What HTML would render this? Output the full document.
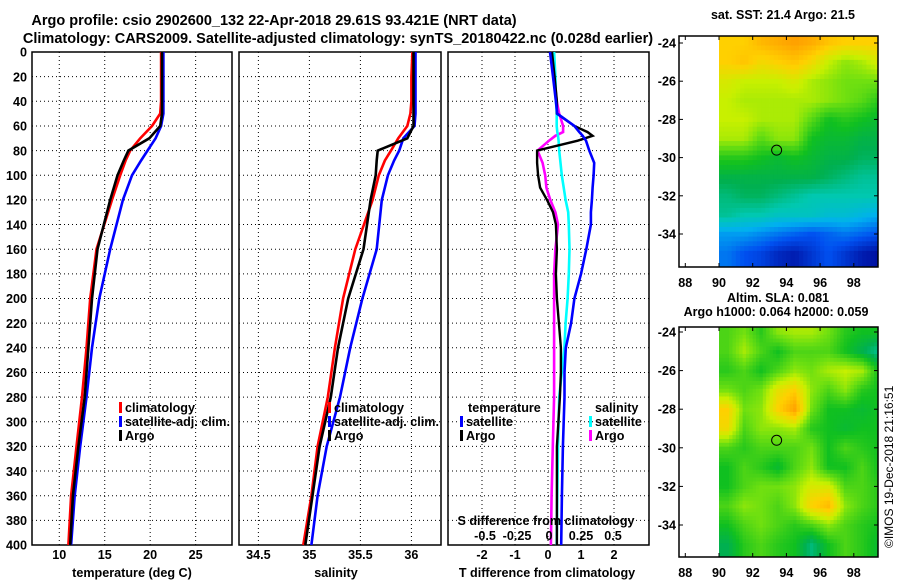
<!DOCTYPE html>
<html><head><meta charset="utf-8">
<style>
html,body{margin:0;padding:0;background:#fff;}
svg{display:block;font-family:"Liberation Sans",sans-serif;font-weight:bold;}
</style></head>
<body>
<svg id="fig" width="900" height="580" viewBox="0 0 900 580" xmlns="http://www.w3.org/2000/svg">
<text x="274" y="25" font-size="14.5" text-anchor="middle">Argo profile: csio 2902600_132 22-Apr-2018 29.61S 93.421E (NRT data)</text>
<text x="338" y="43" font-size="14.5" text-anchor="middle">Climatology: CARS2009. Satellite-adjusted climatology: synTS_20180422.nc (0.028d earlier)</text>
<text x="783" y="19" font-size="12.5" text-anchor="middle">sat. SST: 21.4 Argo: 21.5</text>
<text x="778" y="302" font-size="12.5" text-anchor="middle">Altim. SLA: 0.081</text>
<text x="776" y="316" font-size="12.5" text-anchor="middle">Argo h1000: 0.064 h2000: 0.059</text>
<text transform="translate(893,548) rotate(-90)" font-size="12" font-weight="normal">©IMOS 19-Dec-2018 21:16:51</text>
<g id="g"></g>
</svg>
<script>
// ---- data ----
const depths = [0,20,40,50,60,70,80,88,100,120,160,200,240,280,320,360,400];
const tempClim = [21.2,21.2,21.2,21.1,20.2,18.9,17.8,17.3,16.7,15.8,14.1,13.4,13.0,12.5,11.9,11.3,11.0];
const tempSat  = [21.45,21.45,21.45,21.45,21.2,20.6,19.7,19.0,18.0,17.0,15.6,14.4,13.6,13.0,12.3,11.7,11.3];
const tempArgo = [21.3,21.3,21.3,21.3,21.1,19.9,17.6,17.1,16.4,15.6,14.2,13.6,13.2,12.8,12.1,11.5,11.2];
const salClim = [36.01,36.0,36.0,35.99,35.96,35.87,35.8,35.74,35.68,35.62,35.45,35.33,35.25,35.18,35.08,35.02,34.94];
const salSat  = [36.04,36.04,36.04,36.04,36.03,35.92,35.88,35.83,35.77,35.71,35.66,35.52,35.40,35.30,35.17,35.08,35.02];
const salArgo = [36.02,36.02,36.02,36.02,36.02,35.96,35.67,35.66,35.65,35.6,35.53,35.38,35.28,35.21,35.10,35.03,34.96];
const diffDepths = [0,20,40,50,60,65,68,72,80,90,100,110,120,130,140,160,180,200,220,240,260,280,320,360,400];
const dTsat  = [0.06,0.15,0.24,0.28,0.8,0.95,1.05,1.15,1.25,1.4,1.38,1.35,1.33,1.3,1.3,1.16,1.0,0.8,0.7,0.54,0.5,0.5,0.45,0.42,0.4];
const dTargo = [0.12,0.2,0.27,0.27,0.8,1.2,1.35,0.9,-0.33,-0.33,-0.3,-0.24,-0.03,0.15,0.24,0.27,0.24,0.27,0.33,0.39,0.39,0.36,0.27,0.27,0.27];
const dSargo = [0.015,0.04,0.06,0.08,0.11,0.11,0.05,0.0,-0.09,-0.05,-0.03,-0.02,0.01,0.05,0.07,0.05,0.04,0.04,0.04,0.04,0.04,0.04,0.03,0.02,0.015];
const dSsat  = [0.04,0.05,0.055,0.06,0.06,0.065,0.07,0.075,0.08,0.09,0.1,0.115,0.13,0.15,0.155,0.16,0.155,0.145,0.13,0.12,0.1,0.08,0.07,0.065,0.06];
const depthTicks = [0,20,40,60,80,100,120,140,160,180,200,220,240,260,280,300,320,340,360,380,400];
const tempTicks = [10,15,20,25];
const salTicks = [34.5,35,35.5,36];
const dTTicks = [-2,-1,0,1,2];
const dSTicks = [-0.5,-0.25,0,0.25,0.5];
const dSTickLabels = ["-0.5","-0.25","0","0.25","0.5"];
const sstGrid = [
[0.72,0.72,0.76,0.78,0.8,0.78,0.74,0.72,0.72,0.72],
[0.72,0.74,0.7,0.72,0.74,0.7,0.64,0.6,0.62,0.66],
[0.66,0.64,0.64,0.64,0.66,0.62,0.6,0.58,0.58,0.58],
[0.64,0.62,0.62,0.62,0.62,0.62,0.6,0.58,0.56,0.52],
[0.64,0.64,0.62,0.62,0.62,0.56,0.5,0.52,0.5,0.48],
[0.62,0.62,0.56,0.6,0.6,0.5,0.48,0.48,0.46,0.46],
[0.52,0.52,0.5,0.48,0.5,0.48,0.46,0.46,0.44,0.44],
[0.46,0.46,0.46,0.46,0.46,0.46,0.44,0.42,0.4,0.4],
[0.42,0.44,0.44,0.42,0.4,0.38,0.38,0.38,0.38,0.38],
[0.4,0.38,0.38,0.36,0.36,0.36,0.34,0.34,0.32,0.3],
[0.28,0.28,0.26,0.24,0.22,0.2,0.22,0.24,0.22,0.2],
[0.24,0.2,0.18,0.14,0.12,0.16,0.2,0.16,0.12,0.1]];
const slaGrid = [
[0.55,0.58,0.52,0.6,0.62,0.62,0.58,0.52,0.5,0.5],
[0.55,0.62,0.55,0.5,0.55,0.55,0.55,0.5,0.45,0.4],
[0.52,0.55,0.5,0.55,0.6,0.58,0.62,0.64,0.62,0.5],
[0.58,0.55,0.58,0.68,0.72,0.6,0.55,0.6,0.52,0.5],
[0.72,0.58,0.6,0.72,0.8,0.58,0.5,0.5,0.48,0.5],
[0.7,0.55,0.6,0.6,0.62,0.52,0.5,0.48,0.5,0.5],
[0.55,0.52,0.55,0.55,0.55,0.58,0.5,0.55,0.52,0.5],
[0.5,0.55,0.52,0.48,0.55,0.6,0.5,0.5,0.55,0.5],
[0.5,0.55,0.58,0.58,0.6,0.66,0.66,0.55,0.55,0.52],
[0.55,0.6,0.58,0.55,0.6,0.72,0.76,0.6,0.55,0.52],
[0.5,0.55,0.58,0.55,0.52,0.55,0.6,0.55,0.52,0.5],
[0.45,0.52,0.55,0.52,0.5,0.42,0.5,0.55,0.52,0.48]];
const lonTicks = [88,90,92,94,96,98];
const latTicks = [-24,-26,-28,-30,-32,-34];
const argoLon = 93.42, argoLat = -29.61;

// ---- drawing ----
const NS = "http://www.w3.org/2000/svg";
const G = document.getElementById('g');
const FS = 12.6;
function mk(tag, attrs, parent){const e=document.createElementNS(NS,tag);for(const k in attrs)e.setAttribute(k,attrs[k]);(parent||G).appendChild(e);return e;}
function txt(x,y,s,size,anchor){const t=mk('text',{x:x,y:y,'font-size':size||FS,'text-anchor':anchor||'middle'});t.textContent=s;return t;}
const TOP=52, BOT=545;
const yD = d => TOP + (d/400)*(BOT-TOP);

const panels = [
 {name:'temperature', x0:32, x1:232, lo:7, hi:29, ticks:tempTicks},
 {name:'salinity', x0:239, x1:441, lo:34.31, hi:36.29, ticks:salTicks},
 {name:'difference', x0:448, x1:649, lo:-3.03, hi:3.06, ticks:dTTicks}
];
panels.forEach(p=>{ p.sx = v => p.x0 + (v-p.lo)/(p.hi-p.lo)*(p.x1-p.x0); });

panels.forEach((p,pi)=>{
  const grp = mk('g',{});
  
  
  depthTicks.forEach(d=>{
    const l=mk('line',{x1:p.x0,x2:p.x1,y1:yD(d),y2:yD(d),stroke:'#000','stroke-width':1,'stroke-dasharray':'1,3'},grp);
    
    
  });
  p.ticks.forEach(v=>{
    const l=mk('line',{x1:p.sx(v),x2:p.sx(v),y1:TOP,y2:BOT,stroke:'#000','stroke-width':1,'stroke-dasharray':'1,3'},grp);
    
    
    const t=txt(p.sx(v),559,String(v));
    
    
  });
  const r=mk('rect',{x:p.x0,y:TOP,width:p.x1-p.x0,height:BOT-TOP,fill:'none',stroke:'#000','stroke-width':1.5},grp);
  
  
});
depthTicks.forEach(d=>{
  const t=txt(27,yD(d)+4.7,String(d),FS,'end');
  
  
});
let at;
at=txt(132,577,'temperature (deg C)');


at=txt(336,577,'salinity');


at=txt(547,577,'T difference from climatology');



function line(xs, ds, sx, color, w, name){
  const pts = xs.map((v,i)=>sx(v).toFixed(1)+','+yD(ds[i]).toFixed(1)).join(' ');
  const pl = mk('polyline',{points:pts,fill:'none',stroke:color,'stroke-width':w,'stroke-linejoin':'miter'});
  
  
}
const P0=panels[0],P1=panels[1],P2=panels[2];
line(tempSat,depths,P0.sx,'#0000ff',2.6,'temperature-satellite-line');
line(tempClim,depths,P0.sx,'#ff0000',2.6,'temperature-climatology-line');
line(tempArgo,depths,P0.sx,'#000000',2.6,'temperature-argo-line');
line(salSat,depths,P1.sx,'#0000ff',2.6,'salinity-satellite-line');
line(salClim,depths,P1.sx,'#ff0000',2.6,'salinity-climatology-line');
line(salArgo,depths,P1.sx,'#000000',2.6,'salinity-argo-line');
const sxS = v => 549 + v*128;
line(dSargo,diffDepths,sxS,'#ff00ff',2.6,'s-diff-argo-line');
line(dSsat,diffDepths,sxS,'#00ffff',2.6,'s-diff-satellite-line');
line(dTargo,diffDepths,P2.sx,'#000000',2.4,'t-diff-argo-line');
line(dTsat,diffDepths,P2.sx,'#0000ff',2.6,'t-diff-satellite-line');

function legend(x,y,color,label,name){
  const g=mk('g',{});
  
  
  mk('rect',{x:x,y:y-10,width:3,height:11,fill:color},g);
  const t=mk('text',{x:x+6,y:y,'font-size':FS},g); t.textContent=label;
}
legend(119,412,'#ff0000','climatology','legend-climatology');
legend(119,426,'#0000ff','satellite-adj. clim.','legend-satellite-adj');
legend(119,440,'#000000','Argo','legend-argo');
legend(328,412,'#ff0000','climatology','legend-sal-climatology');
legend(328,426,'#0000ff','satellite-adj. clim.','legend-sal-satellite-adj');
legend(328,440,'#000000','Argo','legend-sal-argo');
at=txt(468,412,'temperature',FS,'start');


at=txt(595,412,'salinity',FS,'start');


legend(460,426,'#0000ff','satellite','legend-t-satellite');
legend(460,440,'#000000','Argo','legend-t-argo');
legend(589,426,'#00ffff','satellite','legend-s-satellite');
legend(589,440,'#ff00ff','Argo','legend-s-argo');
at=txt(546,525,'S difference from climatology');


dSTicks.forEach((v,i)=>{
  const t=txt(sxS(v),540,dSTickLabels[i]);
  
  
});

const cstops=[[0,[0,0,120]],[0.1,[0,16,160]],[0.2,[0,80,240]],[0.3,[0,176,240]],[0.38,[0,200,176]],[0.45,[0,176,80]],[0.5,[16,192,32]],[0.58,[112,224,16]],[0.64,[200,240,0]],[0.72,[255,208,0]],[0.8,[255,160,0]],[0.9,[255,96,0]],[1,[220,0,0]]];
function cmap(v){
  v=Math.max(0,Math.min(1,v));
  for(let i=1;i<cstops.length;i++){ if(v<=cstops[i][0]){const a=cstops[i-1],b=cstops[i];const f=(v-a[0])/(b[0]-a[0]);
    return 'rgb('+a[1].map((c,k)=>Math.round(c+(b[1][k]-c)*f)).join(',')+')';}}
  return 'rgb(220,0,0)';
}
function bilin(grid,lon,lat){
  let cx=lon-90.5, cy=(-24-lat);
  cx=Math.max(0,Math.min(9,cx)); cy=Math.max(0,Math.min(11,cy));
  const i0=Math.floor(cx),j0=Math.floor(cy),i1=Math.min(9,i0+1),j1=Math.min(11,j0+1);
  const fx=cx-i0,fy=cy-j0;
  return grid[j0][i0]*(1-fx)*(1-fy)+grid[j0][i1]*fx*(1-fy)+grid[j1][i0]*(1-fx)*fy+grid[j1][i1]*fx*fy;
}
function drawMap(grid,top,bot,latTop,latScale,name,step){
  const g=mk('g',{});
  
  
  const sx = lon => 719 + (lon-90)*16.85;
  const sy = lat => latTop + (-24-lat)*latScale;
  const latMax = -24 + (latTop-top)/latScale, latMin = -24 - (bot-latTop)/latScale;
  for(let lon=90; lon<99.5; lon+=step){
    for(let lat=latMax; lat>latMin; lat-=step){
      const x=sx(lon), y=sy(lat), w=step*16.85, h=step*latScale;
      const yy=Math.max(top,y), hh=Math.min(bot,y+h)-yy;
      if(hh<=0) continue;
      mk('rect',{x:x.toFixed(2),y:yy.toFixed(2),width:(Math.min(878,x+w)-x+0.4).toFixed(2),height:(hh+0.4).toFixed(2),fill:cmap(bilin(grid,lon+step/2,lat-step/2))},g);
    }
  }
  mk('rect',{x:679,y:top,width:199,height:bot-top,fill:'none',stroke:'#000','stroke-width':1.5},g);
  lonTicks.forEach(v=>{
    mk('line',{x1:sx(v),x2:sx(v),y1:bot,y2:bot-4,stroke:'#000'},g);
    mk('line',{x1:sx(v),x2:sx(v),y1:top,y2:top+4,stroke:'#000'},g);
    const t=mk('text',{x:sx(v),y:bot+20,'font-size':FS,'text-anchor':'middle'},g); t.textContent=String(v);
  });
  latTicks.forEach(v=>{
    mk('line',{x1:679,x2:683,y1:sy(v),y2:sy(v),stroke:'#000'},g);
    mk('line',{x1:878,x2:874,y1:sy(v),y2:sy(v),stroke:'#000'},g);
    const t=mk('text',{x:676,y:sy(v)+4.5,'font-size':FS,'text-anchor':'end'},g); t.textContent=String(v);
  });
  const c=mk('circle',{cx:sx(argoLon),cy:sy(argoLat),r:5,fill:'none',stroke:'#000','stroke-width':1},g);
  
  
}
drawMap(sstGrid,36,267,43,19.1,'sst-map',0.25);
drawMap(slaGrid,327,557,332,19.3,'sla-map',0.2);
</script>
</body></html>
